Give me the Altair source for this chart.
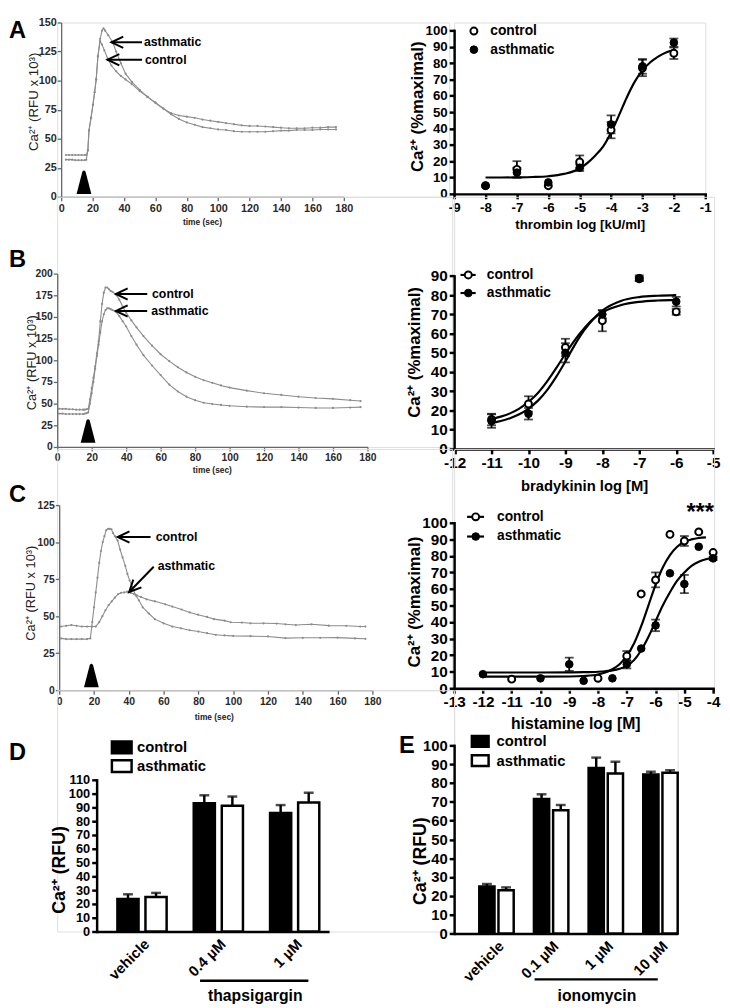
import altair as alt
import pandas as pd

FONT = "Liberation Sans"
GRAY = "#8c8c8c"
TRI_PATH = "M-1,0 L-0.22,-3 Q0,-3.35 0.22,-3 L1,0 Z"
HEAD_PATH = "M2,-0.95 L0,0 L2,0.95"
GROUPS = ["control", "asthmatic"]

# ---------------- A: thrombin time course (RFU x 10^3) ----------------
A_T_ASTH = [3,5,7,9,11,13,15,16,17,17.7,19,20.2,21.3,22.3,23.4,24.8,26,27,28,30,32.8,35,38,41,45,50,55,60,65,70,75,80,85,90,95,100,105,110,115,120,125,130,135,140,145,150,155,160,165,170,175]
A_V_ASTH = [36,36,36,36,36,36,36,36,40,57,68,79,90,101,121,136,143,145,143,139,133,125,115,106,99,92,86,81,76,72,70,69,68,66.5,65.5,64.5,63.5,62.5,61.5,61,61,60.5,60,59.5,59,59,59,59.5,59.5,60,60]
A_T_CTRL = [3,5,7,9,11,13,15,16,17,17.7,19,20.2,21.3,22.3,23.4,24.8,26,27.5,29.6,32,35,38,41,45,50,55,60,65,70,75,80,85,90,95,100,105,110,115,120,125,130,135,140,145,150,155,160,165,170,175]
A_V_CTRL = [32,32,32,31.5,31.5,31.5,31.5,32,40,57,68,79,90,101,121,134,131,126,119,113,108,104,101,97,91,86,81,76,71,67,64,62,60,59,58,57.5,56.5,56,56,56,56,56.5,57,57,57.5,57.5,57.5,58,58,58]

# ---------------- B: bradykinin time course ----------------
B_T = [1,3,5,7,9,11,13,15,16,17,18,19,20,21,22,23,24,25,26,27,28,29,30,31,32,34,36,38,40,43,46,50,55,60,65,70,75,80,85,90,95,100,110,120,130,140,150,160,170,176]
B_V_CTRL = [44,44,44,43.5,43.5,43,43,43,43,43.5,44,55,68,80,93,108,122,145,165,178,184,184,182,180,179,176,170,162,155,146,138,128,117,107,99,92,86,81,77,74,71,68.5,65,62,60,58,56.5,55.5,54,53]
B_V_ASTH = [38.5,38.5,38,38,38,38,38,38,38.5,39,40,50,62,75,90,105,118,132,145,153,158,160,160,159,158,156,151,145,139,128,118,106,94,83,72,64,58,54,51,49.5,48.5,47.5,46.5,46,46,45.5,45,45,45.5,46]

# ---------------- C: histamine time course ----------------
C_T_CTRL = [1,4,7,10,13,16,17.9,19,20,21,22,23,24,25,26,27,28,29,30,31,32,33.6,35,36.4,38,39.2,40.5,42,44,45.8,48,51.5,55,60,65,70,75,80,85,90,95,100,110,120,130,140,150,160,170,176]
C_V_CTRL = [35,34.5,34.5,34.5,34.5,34.5,35,46,56,66,76,86,94,100,104,108,109,109,108.6,106,104,101,95,89.7,84,78.5,74,69.6,64,60.7,56,51.8,48,45.2,43,41.8,40.5,39.6,38.5,37.4,37,36.7,36.5,36.3,35.2,35.4,35.4,35.5,35,34.7]
C_T_ASTH = [1,4,7,10,13,16,19,21,23,24.8,26.6,28.4,30.2,32,33.8,35.5,37.3,39,41,43,44.6,47,50.2,55,60.9,65,70.3,75,79.8,85,89,95,98.6,105,110,117.5,125,130,136,145,155,165,173,176]
C_V_ASTH = [43,43.5,44,43.5,43,43,43,43,46,50,54,57.5,60,62.5,64.8,65.8,66,66.5,65.8,65,64,63,61.4,60,58,56.5,54.5,52.5,51,49.5,48,47,45.9,45.7,45.2,45.2,45,44.5,44,44.5,43.6,43.5,43,43]

# ---------------- A: thrombin concentration-response (% maximal) ----------------
THR_X = [-8, -7, -6, -5, -4, -3, -2]
THR_CTRL = [5, 15, 5, 19.5, 39, 77, 86]
THR_CTRL_SEM = [0, 5, 0, 4, 5, 5, 3.5]
THR_ASTH = [5, 13, 7, 16, 42.5, 78, 92.5]
THR_ASTH_SEM = [0, 3, 0, 2, 5.5, 4.5, 2.5]
THR_FIT_X = [-8,-7.5,-7,-6.5,-6,-5.5,-5,-4.75,-4.5,-4.25,-4,-3.75,-3.5,-3.25,-3,-2.75,-2.5,-2.25,-2]
THR_FIT_Y = [10,10,10.1,10.3,10.8,12.2,15.5,19,23.5,29,37.5,48,59,68.5,75.5,80.5,84,86.5,88]

# ---------------- B: bradykinin concentration-response ----------------
BK_X = [-11, -10, -9, -8, -7, -6]
BK_CTRL = [15.3, 23.4, 52.8, 66.7, 88.5, 71.3]
BK_CTRL_SEM = [3, 4, 4.5, 5.5, 1, 1.5]
BK_ASTH = [14.5, 18.3, 50, 70, 88.8, 76.6]
BK_ASTH_SEM = [3.5, 3, 5, 2, 1.5, 2.5]
BK_FIT_X = [-11,-10.75,-10.5,-10.25,-10,-9.75,-9.5,-9.25,-9,-8.75,-8.5,-8.25,-8,-7.5,-7,-6.5,-6]
BK_FIT_CTRL = [15.5,16.8,18.5,21,24.5,29,35,42,49.5,56.5,62.5,67.5,71,74.8,76.5,77.2,77.5]
BK_FIT_ASTH = [13.5,14.5,16,18,21,25,30.5,37.5,45.5,54,61.5,67.5,72,77,79,79.7,80]

# ---------------- C: histamine concentration-response ----------------
HIS_CTRL_X = [-11, -8, -7, -6.5, -6, -5.5, -5, -4.5, -4]
HIS_CTRL = [5.5, 6, 19.5, 57, 65.5, 93, 89, 94.5, 82]
HIS_CTRL_SEM = [0, 0, 3, 0, 4.5, 0, 3, 0, 0]
HIS_ASTH_X = [-12, -10, -9, -8.5, -7.5, -7, -6.5, -6, -5.5, -5, -4.5, -4]
HIS_ASTH = [8.5, 6, 14.5, 4.5, 6, 14.5, 24, 38, 69.5, 63, 85.5, 78.5]
HIS_ASTH_SEM = [0, 0, 4, 0, 0, 2.5, 0, 3.5, 0, 5.5, 0, 1]
HIS_FIT_CTRL_X = [-12,-11,-10,-9,-8.5,-8,-7.75,-7.5,-7.25,-7,-6.75,-6.5,-6.25,-6,-5.75,-5.5,-5.25,-5,-4.75,-4.5,-4.25]
HIS_FIT_CTRL = [7,7,7,7.1,7.4,8.3,9.5,11.5,14.5,19.5,27,37.5,50,62.5,73,80.5,85.5,88.5,90,90.8,91.2]
HIS_FIT_ASTH_X = [-12,-11,-10,-9,-8.5,-8,-7.75,-7.5,-7.25,-7,-6.75,-6.5,-6.25,-6,-5.75,-5.5,-5.25,-5,-4.75,-4.5,-4.25,-4]
HIS_FIT_ASTH = [9.5,9.5,9.5,9.6,9.7,10,10.3,10.8,11.8,13.5,17,23,31,40.5,50,58,65,70,74,76.5,78,79]

# ---------------- D: thapsigargin ----------------
THAP_CATS = ["vehicle", "0.4 µM", "1 µM"]
THAP_CTRL = [23.5, 93, 86]
THAP_CTRL_SEM = [3.5, 5.8, 5.7]
THAP_ASTH = [25, 91.2, 93.6]
THAP_ASTH_SEM = [3, 6.7, 7.1]

# ---------------- E: ionomycin ----------------
IONO_CATS = ["vehicle", "0.1 µM", "1 µM", "10 µM"]
IONO_CTRL = [25, 71.5, 88, 84.5]
IONO_CTRL_SEM = [1.3, 2.5, 5.5, 1.5]
IONO_ASTH = [23, 65.5, 85, 85.5]
IONO_ASTH_SEM = [1.5, 2.8, 6.3, 1.3]


def letter_layer(letter, lx, ly):
    return alt.Chart(pd.DataFrame({"s": [letter]})).mark_text(
        font=FONT, fontSize=24, fontWeight="bold", align="left", baseline="middle", color="black"
    ).encode(text="s:N", x=alt.value(lx), y=alt.value(ly))


def trace_panel(t_a, v_a, t_c, v_c, ymax, ystep, w, h, xr, yr, yoff, lab_fs, yt_fs, yt_x, yt_y,
                xt_x, xt_y, tri, rules, heads, texts, letter, lx, ly):
    df = pd.concat([pd.DataFrame({"t": t_a, "v": v_a, "g": "asthmatic"}),
                    pd.DataFrame({"t": t_c, "v": v_c, "g": "control"})], ignore_index=True)
    xs = alt.Scale(domain=[0, 180], range=xr, nice=False, zero=False)
    ys = alt.Scale(domain=[0, ymax], range=yr, nice=False, zero=False)
    common = dict(grid=False, domainColor="#666666", tickColor="#666666", domainWidth=1.3, tickWidth=1.3,
                  tickSize=4, labelFont=FONT, labelFontSize=lab_fs, labelFontWeight="bold", labelColor="#2a2a2a",
                  labelFlush=False, labelOverlap=False, titleFont=FONT, titleColor="#222222",
                  titleAlign="center", titleBaseline="middle")
    xaxis = alt.Axis(values=list(range(0, 181, 20)), title="time (sec)", titleFontSize=8.5, titleFontWeight="bold",
                     titleX=xt_x, titleY=xt_y, labelPadding=2, **common)
    yaxis = alt.Axis(values=list(range(0, ymax + 1, ystep)), title="Ca²⁺ (RFU x 10³)", titleFontSize=yt_fs,
                     titleFontWeight="normal", titleAngle=270, titleX=yt_x, titleY=yt_y, labelPadding=1,
                     offset=yoff, **common)

    def X(f):
        return alt.X(f, scale=xs, axis=xaxis)

    def Y(f):
        return alt.Y(f, scale=ys, axis=yaxis)

    lines = alt.Chart(df).mark_line(color=GRAY, strokeWidth=1.1).encode(x=X("t:Q"), y=Y("v:Q"), detail="g:N")
    dots = alt.Chart(df).mark_circle(color=GRAY, size=5, opacity=1).encode(x=X("t:Q"), y=Y("v:Q"))
    trid = alt.Chart(pd.DataFrame({"t": [tri[0]], "v": [tri[1]]})).mark_point(
        shape=TRI_PATH, filled=True, color="black", size=225, opacity=1).encode(x=X("t:Q"), y=Y("v:Q"))
    rdf = pd.DataFrame(rules, columns=["x1", "y1", "x2", "y2"])
    r = alt.Chart(rdf).mark_rule(color="black", strokeWidth=2).encode(
        x=X("x1:Q"), x2="x2:Q", y=Y("y1:Q"), y2="y2:Q")
    hdf = pd.DataFrame(heads, columns=["x", "y", "ang"])
    hd = alt.Chart(hdf).mark_point(shape=HEAD_PATH, filled=False, color="black", strokeWidth=2, size=144,
                                   opacity=1).encode(x=X("x:Q"), y=Y("y:Q"), angle=alt.Angle("ang:Q", scale=None))
    tdf = pd.DataFrame(texts, columns=["x", "y", "s"])
    tx = alt.Chart(tdf).mark_text(font=FONT, fontSize=12.5, fontWeight="bold", align="left",
                                  baseline="middle", color="black").encode(x=X("x:Q"), y=Y("y:Q"), text="s:N")
    return alt.layer(lines, dots, trid, r, hd, tx, letter_layer(letter, lx, ly)).properties(width=w, height=h)


def dose_panel(cx, cy, ce, ax, ay, ae, fits, xdom, xr, ydom, ystep, yr, w, h, lab_fs, yt_x, yt_y,
               xtitle, xt_fs, xt_x, xt_y, leg_pts, leg_lines, leg_texts, extra=None):
    xs = alt.Scale(domain=xdom, range=xr, nice=False, zero=False)
    ys = alt.Scale(domain=ydom, range=yr, nice=False, zero=False)
    common = dict(grid=False, domainColor="black", tickColor="black", domainWidth=2.5, tickWidth=2.5,
                  tickSize=5, domainCap="square", labelFont=FONT, labelFontSize=lab_fs, labelFontWeight="bold",
                  labelColor="black", labelFlush=False, labelOverlap=False, labelExpr="datum.value + ''",
                  titleFont=FONT, titleColor="black", titleFontWeight="bold", titleAlign="center",
                  titleBaseline="middle")
    xaxis = alt.Axis(values=list(range(xdom[0], xdom[1] + 1)), title=xtitle, titleFontSize=xt_fs,
                     titleX=xt_x, titleY=xt_y, labelPadding=2, **common)
    yaxis = alt.Axis(values=list(range(ydom[0], ydom[1] + 1, ystep)), title="Ca²⁺ (%maximal)", titleFontSize=17,
                     titleAngle=270, titleX=yt_x, titleY=yt_y, labelPadding=2, **common)

    def X(f):
        return alt.X(f, scale=xs, axis=xaxis)

    def Y(f):
        return alt.Y(f, scale=ys, axis=yaxis)

    fdf = pd.concat([pd.DataFrame({"x": fx, "y": fy, "s": name}) for name, fx, fy in fits], ignore_index=True)
    fit = alt.Chart(fdf).mark_line(color="black", strokeWidth=2.2, interpolate="monotone").encode(
        x=X("x:Q"), y=Y("y:Q"), detail="s:N")
    erows = []
    for xx, yy, ee in list(zip(cx, cy, ce)) + list(zip(ax, ay, ae)):
        if ee > 0:
            erows.append({"x": xx, "lo": yy - ee, "hi": yy + ee})
    edf = pd.DataFrame(erows)
    erule = alt.Chart(edf).mark_rule(color="black", strokeWidth=1.8).encode(x=X("x:Q"), y=Y("lo:Q"), y2="hi:Q")
    cap_lo = alt.Chart(edf).mark_tick(color="black", thickness=1.8, size=9, orient="horizontal").encode(
        x=X("x:Q"), y=Y("lo:Q"))
    cap_hi = alt.Chart(edf).mark_tick(color="black", thickness=1.8, size=9, orient="horizontal").encode(
        x=X("x:Q"), y=Y("hi:Q"))
    cdf = pd.DataFrame({"x": cx, "y": cy})
    adf = pd.DataFrame({"x": ax, "y": ay})
    cpts = alt.Chart(cdf).mark_point(shape="circle", filled=True, fill="white", stroke="black", strokeWidth=2,
                                     size=50, opacity=1).encode(x=X("x:Q"), y=Y("y:Q"))
    apts = alt.Chart(adf).mark_point(shape="circle", filled=True, fill="black", stroke="black", strokeWidth=1,
                                     size=60, opacity=1).encode(x=X("x:Q"), y=Y("y:Q"))
    layers = [fit, erule, cap_lo, cap_hi, cpts, apts]
    if leg_lines:
        ldf = pd.DataFrame(leg_lines, columns=["x1", "x2", "y"])
        layers.append(alt.Chart(ldf).mark_rule(color="black", strokeWidth=2.2).encode(
            x=X("x1:Q"), x2="x2:Q", y=Y("y:Q")))
    lp = pd.DataFrame(leg_pts, columns=["x", "y", "f"])
    layers.append(alt.Chart(lp[lp.f == "open"]).mark_point(
        shape="circle", filled=True, fill="white", stroke="black", strokeWidth=2, size=50, opacity=1).encode(
        x=X("x:Q"), y=Y("y:Q")))
    layers.append(alt.Chart(lp[lp.f == "filled"]).mark_point(
        shape="circle", filled=True, fill="black", stroke="black", strokeWidth=1, size=60, opacity=1).encode(
        x=X("x:Q"), y=Y("y:Q")))
    ltd = pd.DataFrame(leg_texts, columns=["x", "y", "s"])
    layers.append(alt.Chart(ltd).mark_text(font=FONT, fontSize=14, fontWeight="bold", align="left",
                                           baseline="middle", color="black").encode(
        x=X("x:Q"), y=Y("y:Q"), text="s:N"))
    if extra is not None:
        edf2 = pd.DataFrame([extra], columns=["x", "y", "s"])
        layers.append(alt.Chart(edf2).mark_text(font=FONT, fontSize=24, fontWeight="bold", align="center",
                                                baseline="alphabetic", color="black").encode(
            x=X("x:Q"), y=Y("y:Q"), text="s:N"))
    return alt.layer(*layers).properties(width=w, height=h)


def legend_box(fill, sym_path, sym_size, sx, sy, label, tx):
    sym = alt.Chart(pd.DataFrame({"s": [label]})).mark_point(
        shape=sym_path, size=sym_size, filled=True, fill=fill, stroke="black", strokeWidth=2.5, opacity=1
    ).encode(x=alt.value(sx), y=alt.value(sy))
    txt = alt.Chart(pd.DataFrame({"s": [label]})).mark_text(
        font=FONT, fontSize=15, fontWeight="bold", align="left", baseline="middle", color="black"
    ).encode(text="s:N", x=alt.value(tx), y=alt.value(sy))
    return [sym, txt]


def bar_panel(cats, ctrl, ctrl_e, asth, asth_e, w, h, xr, pin, pout, palign, pin2, ymax, yr, yoff,
              ylab_fs, yt_x, yt_y, sym_path, sym_size, sym_x, sym_y1, sym_y2, leg_tx, qdom, bracket, btext,
              letter, lx, ly):
    n = len(cats)
    df = pd.DataFrame({"cat": cats * 2, "g": ["control"] * n + ["asthmatic"] * n,
                       "v": ctrl + asth,
                       "e": [a + b for a, b in zip(ctrl, ctrl_e)] + [a + b for a, b in zip(asth, asth_e)]})
    xs = alt.Scale(domain=cats, range=xr, paddingInner=pin, paddingOuter=pout, align=palign)
    xos = alt.Scale(domain=GROUPS, paddingInner=pin2, paddingOuter=0)
    ys = alt.Scale(domain=[0, ymax], range=yr, nice=False, zero=False)
    xaxis = alt.Axis(title=None, labelAngle=315, labelFontSize=15, labelFontWeight="bold", labelFont=FONT,
                     labelColor="black", ticks=False, domainColor="black", domainWidth=2.5, labelPadding=5,
                     labelAlign="right", labelBaseline="top", grid=False)
    yaxis = alt.Axis(values=list(range(0, ymax + 1, 10)), title="Ca²⁺ (RFU)", titleFont=FONT, titleFontSize=18,
                     titleFontWeight="bold", titleColor="black", titleAngle=270, titleAlign="center",
                     titleBaseline="middle", titleX=yt_x, titleY=yt_y, grid=False, domainColor="black",
                     domainWidth=2.5, tickColor="black", tickWidth=2.5, tickSize=5, domainCap="square",
                     labelFont=FONT, labelFontSize=ylab_fs, labelFontWeight="bold", labelColor="black",
                     labelPadding=2, labelOverlap=False, offset=yoff)
    base = alt.Chart(df)
    XO = alt.XOffset("g:N", scale=xos, sort=GROUPS)

    def X():
        return alt.X("cat:N", scale=xs, axis=xaxis, sort=cats)

    def Y(f):
        return alt.Y(f, scale=ys, axis=yaxis)

    bars = base.mark_bar(stroke="black", strokeWidth=2.5, opacity=1).encode(
        x=X(), xOffset=XO, y=Y("v:Q"),
        color=alt.Color("g:N", scale=alt.Scale(domain=GROUPS, range=["black", "white"]), legend=None))
    erule = base.mark_rule(color="black", strokeWidth=2.5).encode(x=X(), xOffset=XO, y=Y("v:Q"), y2="e:Q")
    ecap = base.mark_tick(color="black", thickness=2.5, size=10, orient="horizontal").encode(
        x=X(), xOffset=XO, y=Y("e:Q"))
    inner = alt.layer(bars, erule, ecap)
    qs = alt.Scale(domain=qdom, range=xr, nice=False, zero=False)
    bdf = pd.DataFrame([bracket], columns=["x1", "x2", "y"])
    br = alt.Chart(bdf).mark_rule(color="black", strokeWidth=2.5).encode(
        x=alt.X("x1:Q", scale=qs, axis=None), x2="x2:Q", y=Y("y:Q"))
    tdf = pd.DataFrame([btext], columns=["x", "y", "s"])
    bt = alt.Chart(tdf).mark_text(font=FONT, fontSize=16, fontWeight="bold", align="center",
                                  baseline="middle", color="black").encode(
        x=alt.X("x:Q", scale=qs, axis=None), y=Y("y:Q"), text="s:N")
    legend = (legend_box("black", sym_path, sym_size, sym_x, sym_y1, "control", leg_tx)
              + legend_box("white", sym_path, sym_size, sym_x, sym_y2, "asthmatic", leg_tx))
    return alt.layer(inner, br, bt, *legend, letter_layer(letter, lx, ly)).resolve_scale(
        x="independent").properties(width=w, height=h)


A_left = trace_panel(A_T_ASTH, A_V_ASTH, A_T_CTRL, A_V_CTRL, 150, 25, 398, 177, [4, 291], [177, 0], -4,
                     11, 13.5, -28, 80, 147, 25, (14.5, 2.5),
                     rules=[(32, 133, 51.5, 133), (29.5, 118, 51.5, 118)],
                     heads=[(32, 133, 0), (29.5, 118, 0)],
                     texts=[(52.7, 133, "asthmatic"), (53.3, 118, "control")],
                     letter="A", lx=-49, ly=8.5)
A_right = dose_panel(THR_X, THR_CTRL, THR_CTRL_SEM, THR_X, THR_ASTH, THR_ASTH_SEM,
                     [("fit", THR_FIT_X, THR_FIT_Y)], [-9, -1], [0, 255], [0, 100], 10, [174, 8], 255, 174,
                     13.5, -37, 85, "thrombin log [kU/ml]", 13.5, 127.5, 31,
                     leg_pts=[(-8.37, 99.6, "open"), (-8.37, 88.2, "filled")], leg_lines=[],
                     leg_texts=[(-7.85, 99.6, "control"), (-7.85, 88.2, "asthmatic")])

B_left = trace_panel(B_T, B_V_ASTH, B_T, B_V_CTRL, 200, 25, 401, 254, [0, 315], [254, 78], 0,
                     10.5, 13, -26, 168, 157, 23.3, (17.9, 5),
                     rules=[(34, 176.5, 52.2, 176.5), (34, 157, 52.2, 157)],
                     heads=[(34, 176.5, 0), (34, 157, 0)],
                     texts=[(55, 176.5, "control"), (54.5, 156.5, "asthmatic")],
                     letter="B", lx=-49, ly=64)
B_right = dose_panel(BK_X, BK_CTRL, BK_CTRL_SEM, BK_X, BK_ASTH, BK_ASTH_SEM,
                     [("c", BK_FIT_X, BK_FIT_CTRL), ("a", BK_FIT_X, BK_FIT_ASTH)],
                     [-12, -5], [0.5, 263], [0, 90], 10, [256, 80.3], 264, 256,
                     15.5, -40.5, 157.5, "bradykinin log [M]", 15, 132, 36.7,
                     leg_pts=[(-11.63, 90.5, "open"), (-11.63, 81.1, "filled")],
                     leg_lines=[(-11.84, -11.43, 90.5), (-11.84, -11.43, 81.1)],
                     leg_texts=[(-11.13, 90.5, "control"), (-11.13, 81.1, "asthmatic")])

C_left = trace_panel(C_T_ASTH, C_V_ASTH, C_T_CTRL, C_V_CTRL, 125, 25, 401, 245, [2, 320], [245, 57], -2,
                     10.5, 13, -29, 146, 159, 26.3, (18.5, 2),
                     rules=[(33.6, 103.4, 52.5, 103.4), (54.3, 83.4, 40.2, 66.3)],
                     heads=[(33.6, 103.4, 0), (40.2, 66.3, 314)],
                     texts=[(55.5, 103.4, "control"), (56.6, 84, "asthmatic")],
                     letter="C", lx=-49, ly=46.5)
C_right = dose_panel(HIS_CTRL_X, HIS_CTRL, HIS_CTRL_SEM, HIS_ASTH_X, HIS_ASTH, HIS_ASTH_SEM,
                     [("c", HIS_FIT_CTRL_X, HIS_FIT_CTRL), ("a", HIS_FIT_ASTH_X, HIS_FIT_ASTH)],
                     [-13, -4], [0, 263], [0, 100], 10, [243, 75], 264, 243,
                     15.5, -40.5, 155, "histamine log [M]", 16, 123, 36,
                     leg_pts=[(-12.25, 103.6, "open"), (-12.25, 91.7, "filled")],
                     leg_lines=[(-12.55, -11.96, 103.6), (-12.55, -11.96, 91.7)],
                     leg_texts=[(-11.51, 103.6, "control"), (-11.51, 91.7, "asthmatic")],
                     extra=(-4.45, 101.8, "***"))

D = bar_panel(THAP_CATS, THAP_CTRL, THAP_CTRL_SEM, THAP_ASTH, THAP_ASTH_SEM, 403, 245, [40, 276],
              0.355, 0.2, 0.68, 0.246, 110, [245, 91], -40, 13, -38, 182,
              "M-1,-0.6H1V0.6H-1Z", 400, 65.5, 58, 77, 81, [-0.555, 2.49], (0.8, 2.219, -35.7),
              (1.523, -46.6, "thapsigargin"), "D", -49, 63.5)
E = bar_panel(IONO_CATS, IONO_CTRL, IONO_CTRL_SEM, IONO_ASTH, IONO_ASTH_SEM, 227, 247, [0, 227],
              0.37, 0.23, 1.0, 0.205, 100, [247, 56], 0, 15, -34, 173,
              "M-1,-0.65H1V0.65H-1Z", 289, 26.5, 52, 71.5, 43, [-0.622, 3.468], (0.85, 3.104, -24.4),
              (1.99, -33.1, "ionomycin"), "E", -56, 56.5)

chart = alt.concat(A_left, A_right, B_left, B_right, C_left, C_right, D, E,
                   columns=2, spacing=0, align="none", bounds="flush").resolve_scale(
    color="independent", xOffset="independent").properties(padding=0).configure_view(
    strokeWidth=0).configure(font=FONT)

chart.save("out.html", embed_options={"renderer": "svg", "actions": False})
